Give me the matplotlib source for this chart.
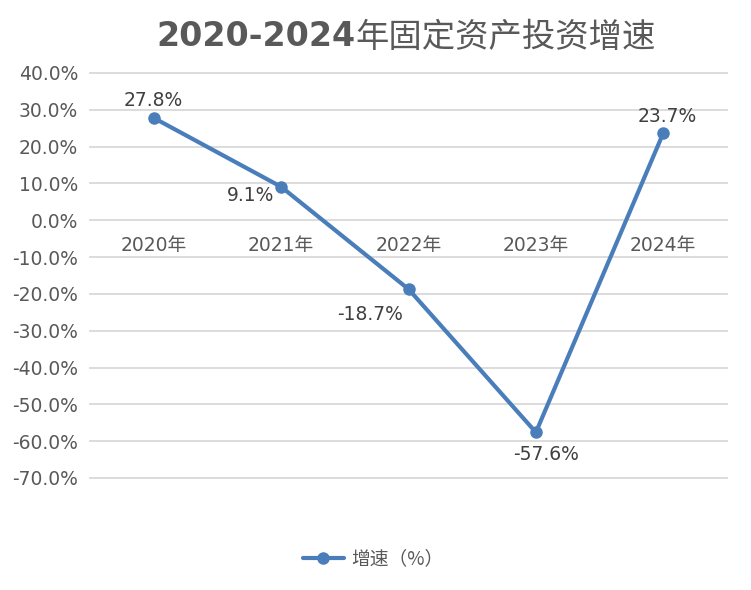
import matplotlib
matplotlib.use("Agg")
import matplotlib.pyplot as plt

plt.rcParams['font.family'] = ['DejaVu Sans', 'Noto Sans CJK SC']

categories = ['2020年', '2021年', '2022年', '2023年', '2024年']
values = [27.8, 9.1, -18.7, -57.6, 23.7]
label_texts = ['27.8%', '9.1%', '-18.7%', '-57.6%', '23.7%']
yticks = [40, 30, 20, 10, 0, -10, -20, -30, -40, -50, -60, -70]
title_bold = '2020-2024'
title_rest = '年固定资产投资增速'
series_name = '增速（%）'

line_color = '#4A7EBB'
text_color = '#595959'

fig = plt.figure(figsize=(7.51, 5.90), dpi=100)
ax = fig.add_axes([90/751, 1-478/590, 637/751, (478-73)/590])

x = list(range(len(categories)))
ax.plot(x, values, color=line_color, lw=3.0, marker='o', ms=8,
        solid_capstyle='round', label=series_name, zorder=3)

ax.set_xlim(-0.5, len(categories) - 0.5)
ax.set_ylim(-70, 40)
ax.set_yticks(yticks)
ax.set_yticklabels([f'{v:.1f}%' for v in yticks])
ax.yaxis.grid(True, color='#D9D9D9', lw=1.3)
for gl in ax.get_ygridlines():
    gl.set_clip_on(False)
ax.set_axisbelow(True)
for s in ax.spines.values():
    s.set_visible(False)
ax.tick_params(axis='y', length=0, labelsize=13.5, labelcolor=text_color, pad=8.5)
ax.set_xticks([])

for xi, c in zip(x, categories):
    ax.annotate(c, (xi, 0), xytext=(0, -25), textcoords='offset points',
                ha='center', va='bottom', fontsize=13.5, color=text_color)

offsets = [(0, 6, 'center', 'bottom'), (-22, -6, 'center', 'center'),
           (-28, -18, 'center', 'center'), (7, -16, 'center', 'center'),
           (3, 5, 'center', 'bottom')]
for xi, v, t, (dx, dy, ha, va) in zip(x, values, label_texts, offsets):
    ax.annotate(t, (xi, v), xytext=(dx, dy), textcoords='offset points',
                ha=ha, va=va, fontsize=13.5, color='#404040')

# title: bold digits, regular CJK, centred over plot area
fig.canvas.draw()
r = fig.canvas.get_renderer()
ty = 1 - 37/590
t1 = fig.text(0, ty, title_bold, ha='left', va='center', fontsize=24,
              fontweight='bold', color=text_color)
t2 = fig.text(0, ty, title_rest, ha='left', va='center', fontsize=24,
              color=text_color, family=['Noto Sans CJK SC'])
w1 = t1.get_window_extent(r).width
w2 = t2.get_window_extent(r).width
W = fig.bbox.width
cx = 406
start = cx - (w1 + w2) / 2
t1.set_x(start / W)
t2.set_x((start + w1) / W)

leg = fig.legend(loc='center', bbox_to_anchor=(0.497, 1-559/590), frameon=False,
                 fontsize=13.5, handlelength=2.2, handletextpad=0.4)
for t in leg.get_texts():
    t.set_color(text_color)
    t.set_family(['Noto Sans CJK SC'])

fig.savefig('out.png', dpi=100)
